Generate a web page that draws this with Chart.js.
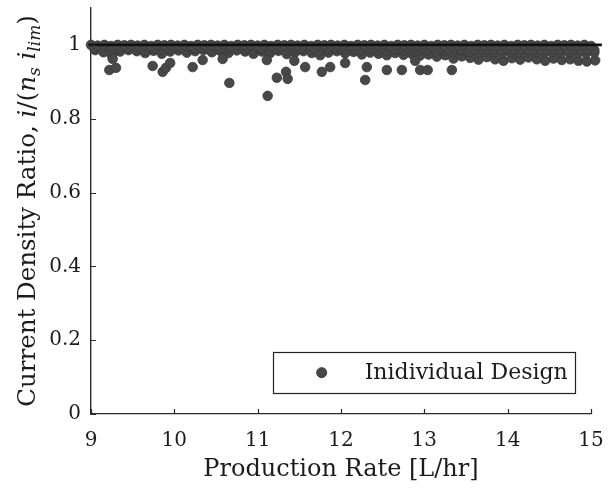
<!DOCTYPE html>
<html>
<head>
<meta charset="utf-8">
<script src="https://cdn.jsdelivr.net/npm/chart.js@4"></script>
<style>
  html, body { margin: 0; padding: 0; background: #fff; }
  #wrap { width: 612px; height: 492px; }
</style>
</head>
<body>
<div id="wrap"><canvas id="c" width="612" height="492"></canvas></div>
<script>
// ---- data ----
const xTicks = [9, 10, 11, 12, 13, 14, 15];
const yTicks = [0, 0.2, 0.4, 0.6, 0.8, 1];
const xTitle = 'Production Rate [L/hr]';
const seriesLabel = 'Inidividual Design';
const limitX = [8.97, 15.13];
const limitY = [1, 1];

const bandTop = [[9.00,1.000],[9.08,0.998],[9.16,1.000],[9.24,0.997],[9.32,1.000],[9.40,0.999],[9.48,1.000],[9.56,0.998],[9.64,1.000],[9.72,0.997],[9.80,1.000],[9.88,0.999],[9.96,1.000],[10.04,0.998],[10.12,1.000],[10.20,0.997],[10.28,1.000],[10.36,0.999],[10.44,1.000],[10.52,0.998],[10.60,1.000],[10.68,0.997],[10.76,1.000],[10.84,0.999],[10.92,1.000],[11.00,0.998],[11.08,1.000],[11.16,0.997],[11.24,1.000],[11.32,0.999],[11.40,1.000],[11.48,0.998],[11.56,1.000],[11.64,0.997],[11.72,1.000],[11.80,0.999],[11.88,1.000],[11.96,0.998],[12.04,1.000],[12.12,0.997],[12.20,1.000],[12.28,0.999],[12.36,1.000],[12.44,0.998],[12.52,1.000],[12.60,0.997],[12.68,1.000],[12.76,0.999],[12.84,1.000],[12.92,0.998],[13.00,1.000],[13.08,0.997],[13.16,1.000],[13.24,0.999],[13.32,1.000],[13.40,0.998],[13.48,1.000],[13.56,0.997],[13.64,1.000],[13.72,0.999],[13.80,1.000],[13.88,0.998],[13.96,1.000],[14.04,0.997],[14.12,1.000],[14.20,0.999],[14.28,1.000],[14.36,0.998],[14.44,1.000],[14.52,0.997],[14.60,1.000],[14.68,0.999],[14.76,1.000],[14.84,0.998],[14.92,1.000],[15.00,0.997],[15.08,1.000]];

const bandUpper = [[9.04,0.994],[9.12,0.992],[9.20,0.995],[9.28,0.991],[9.36,0.994],[9.44,0.993],[9.52,0.995],[9.60,0.992],[9.68,0.994],[9.76,0.991],[9.84,0.995],[9.92,0.993],[10.00,0.994],[10.08,0.992],[10.16,0.995],[10.24,0.991],[10.32,0.994],[10.40,0.993],[10.48,0.995],[10.56,0.992],[10.64,0.994],[10.72,0.991],[10.80,0.995],[10.88,0.993],[10.96,0.994],[11.04,0.992],[11.12,0.995],[11.20,0.991],[11.28,0.994],[11.36,0.993],[11.44,0.995],[11.52,0.992],[11.60,0.994],[11.68,0.991],[11.76,0.995],[11.84,0.993],[11.92,0.994],[12.00,0.992],[12.08,0.995],[12.16,0.991],[12.24,0.994],[12.32,0.993],[12.40,0.994],[12.48,0.991],[12.56,0.993],[12.64,0.990],[12.72,0.993],[12.80,0.991],[12.88,0.992],[12.96,0.990],[13.04,0.992],[13.12,0.989],[13.20,0.991],[13.28,0.988],[13.36,0.990],[13.44,0.988],[13.52,0.990],[13.60,0.987],[13.68,0.989],[13.76,0.987],[13.84,0.989],[13.92,0.986],[14.00,0.988],[14.08,0.986],[14.16,0.988],[14.24,0.987],[14.32,0.988],[14.40,0.986],[14.48,0.987],[14.56,0.986],[14.64,0.988],[14.72,0.986],[14.80,0.987],[14.88,0.986],[14.96,0.987],[15.04,0.986],[15.10,0.988]];

const bandMid = [[9.04,0.990],[9.14,0.986],[9.24,0.984],[9.34,0.989],[9.44,0.991],[9.54,0.987],[9.64,0.985],[9.74,0.990],[9.84,0.986],[9.94,0.988],[10.04,0.991],[10.14,0.987],[10.24,0.989],[10.34,0.990],[10.44,0.986],[10.54,0.989],[10.64,0.987],[10.74,0.991],[10.84,0.988],[10.94,0.985],[11.04,0.989],[11.14,0.986],[11.24,0.990],[11.34,0.985],[11.44,0.988],[11.54,0.989],[11.64,0.986],[11.74,0.984],[11.84,0.987],[11.94,0.989],[12.04,0.986],[12.14,0.988],[12.24,0.985],[12.34,0.987],[12.44,0.986],[12.54,0.984],[12.64,0.987],[12.74,0.985],[12.84,0.986],[12.94,0.984],[13.04,0.985],[13.14,0.982],[13.24,0.984],[13.34,0.980],[13.44,0.983],[13.54,0.981],[13.64,0.979],[13.74,0.982],[13.84,0.980],[13.94,0.978],[14.04,0.981],[14.14,0.979],[14.24,0.982],[14.34,0.980],[14.44,0.978],[14.54,0.981],[14.64,0.979],[14.74,0.980],[14.84,0.978],[14.94,0.977],[15.04,0.979]];

const bandLow = [[9.05,0.986],[9.15,0.980],[9.25,0.972],[9.35,0.982],[9.45,0.986],[9.55,0.983],[9.65,0.978],[9.75,0.984],[9.85,0.976],[9.95,0.982],[10.05,0.985],[10.15,0.979],[10.25,0.983],[10.35,0.986],[10.45,0.980],[10.55,0.984],[10.65,0.978],[10.75,0.985],[10.85,0.982],[10.95,0.976],[11.05,0.982],[11.15,0.978],[11.25,0.984],[11.35,0.975],[11.45,0.980],[11.55,0.983],[11.65,0.978],[11.75,0.972],[11.85,0.979],[11.95,0.983],[12.05,0.977],[12.15,0.981],[12.25,0.974],[12.35,0.979],[12.45,0.976],[12.55,0.972],[12.65,0.978],[12.75,0.973],[12.85,0.976],[12.95,0.971],[13.05,0.974],[13.15,0.968],[13.25,0.972],[13.35,0.963],[13.45,0.969],[13.55,0.965],[13.65,0.960],[13.75,0.967],[13.85,0.961],[13.95,0.957],[14.05,0.964],[14.15,0.960],[14.25,0.966],[14.35,0.961],[14.45,0.957],[14.55,0.963],[14.65,0.959],[14.75,0.961],[14.85,0.957],[14.95,0.955],[15.05,0.958]];

const outliers = [[9.22,0.932],[9.30,0.938],[9.26,0.962],[9.74,0.943],[9.86,0.927],[9.90,0.938],[9.95,0.951],[10.22,0.940],[10.34,0.959],[10.58,0.962],[10.66,0.897],[11.11,0.959],[11.12,0.862],[11.23,0.911],[11.34,0.927],[11.36,0.908],[11.44,0.957],[11.57,0.940],[11.77,0.927],[11.87,0.940],[12.05,0.951],[12.31,0.940],[12.29,0.905],[12.55,0.932],[12.73,0.932],[12.89,0.957],[12.95,0.932],[13.04,0.932],[13.33,0.932],[15.08,0.935],[15.10,0.925]];

// ---- build ----
const SERIF = '"DejaVu Serif", "Liberation Serif", serif';
const INK = '#1c1c1c';
const PT_FILL = '#484848';
const PT_EDGE = '#3a3a3a';

const toPts = arr => arr.map(p => ({ x: p[0], y: p[1] }));
const designPts = [].concat(toPts(bandLow), toPts(bandMid), toPts(bandUpper), toPts(bandTop), toPts(outliers));
const limitPts = limitX.map((x, i) => ({ x: x, y: limitY[i] }));

const decor = {
  id: 'decor',
  afterDraw(chart) {
    const ctx = chart.ctx;
    const xs = chart.scales.x, ys = chart.scales.y;
    const a = chart.chartArea;
    ctx.save();
    // inward tick marks
    ctx.strokeStyle = '#2a2a2a';
    ctx.lineWidth = 1.2;
    ctx.beginPath();
    xTicks.forEach(v => {
      const px = Math.round(xs.getPixelForValue(v)) + 0.5;
      ctx.moveTo(px, a.bottom);
      ctx.lineTo(px, a.bottom - 5);
    });
    yTicks.forEach(v => {
      const py = Math.round(ys.getPixelForValue(v)) + 0.5;
      ctx.moveTo(a.left, py);
      ctx.lineTo(a.left + 5, py);
    });
    ctx.stroke();

    // y-axis title with math parts
    const fs = 24.5;
    const segs = [
      { t: 'Current Density Ratio, ', it: false, sub: false },
      { t: 'i', it: true, sub: false },
      { t: '/(', it: false, sub: false },
      { t: 'n', it: true, sub: false },
      { t: 's', it: true, sub: true },
      { t: ' ', it: false, sub: false },
      { t: 'i', it: true, sub: false },
      { t: 'lim', it: true, sub: true },
      { t: ')', it: false, sub: false }
    ];
    const fontFor = s => (s.it ? 'italic ' : '') + (s.sub ? Math.round(fs * 0.7) : fs) + 'px ' + SERIF;
    let total = 0;
    segs.forEach(s => { ctx.font = fontFor(s); s.w = ctx.measureText(s.t).width; total += s.w; });
    ctx.translate(35, (a.top + a.bottom) / 2);
    ctx.rotate(-Math.PI / 2);
    ctx.fillStyle = INK;
    ctx.textBaseline = 'alphabetic';
    ctx.textAlign = 'left';
    let cx = -total / 2;
    segs.forEach(s => {
      ctx.font = fontFor(s);
      ctx.fillText(s.t, cx, s.sub ? fs * 0.22 : 0);
      cx += s.w;
    });
    ctx.restore();

    // legend box inside the plot
    ctx.save();
    const lx = xs.getPixelForValue(11.18), rx = xs.getPixelForValue(14.8);
    const ty = ys.getPixelForValue(0.168), by = ys.getPixelForValue(0.056);
    ctx.fillStyle = '#fff';
    ctx.fillRect(lx, ty, rx - lx, by - ty);
    ctx.strokeStyle = '#222';
    ctx.lineWidth = 1.2;
    ctx.strokeRect(Math.round(lx) + 0.5, Math.round(ty) + 0.5, Math.round(rx - lx), Math.round(by - ty));
    const my = (ty + by) / 2;
    ctx.beginPath();
    ctx.arc(lx + 49, my, 5, 0, Math.PI * 2);
    ctx.fillStyle = PT_FILL;
    ctx.fill();
    ctx.strokeStyle = PT_EDGE;
    ctx.lineWidth = 1;
    ctx.stroke();
    ctx.fillStyle = INK;
    ctx.font = '22px ' + SERIF;
    ctx.textBaseline = 'middle';
    ctx.textAlign = 'left';
    ctx.fillText(chart.data.datasets[0].label, lx + 92, my + 1);
    ctx.restore();
  }
};

new Chart(document.getElementById('c'), {
  type: 'scatter',
  data: {
    datasets: [
      {
        label: seriesLabel,
        data: designPts,
        order: 2,
        pointRadius: 4.8,
        pointHoverRadius: 4.8,
        backgroundColor: PT_FILL,
        borderColor: PT_EDGE,
        borderWidth: 0.8,
        clip: false
      },
      {
        label: 'limit',
        type: 'line',
        data: limitPts,
        order: 1,
        borderColor: '#111',
        borderWidth: 2.8,
        pointRadius: 0,
        fill: false,
        clip: false
      }
    ]
  },
  options: {
    responsive: false,
    animation: false,
    devicePixelRatio: 1,
    layout: { padding: { left: 0, right: 21, top: 8, bottom: 0 } },
    plugins: { legend: { display: false }, tooltip: { enabled: false } },
    scales: {
      x: {
        type: 'linear',
        min: 9, max: 15,
        afterBuildTicks: s => { s.ticks = xTicks.map(v => ({ value: v })); },
        afterFit: s => { s.height = 78; s.paddingLeft = 0; s.paddingRight = 0; },
        grid: { display: false, drawTicks: false },
        border: { display: true, color: '#2a2a2a', width: 1.2 },
        ticks: { color: INK, font: { family: SERIF, size: 20 }, padding: 15, maxRotation: 0, autoSkip: false },
        title: { display: true, text: xTitle, color: INK, font: { family: SERIF, size: 24 }, padding: { top: 0, bottom: 8 } }
      },
      y: {
        type: 'linear',
        min: 0, max: 1.1,
        afterBuildTicks: s => { s.ticks = yTicks.map(v => ({ value: v })); },
        afterFit: s => { s.width = 91; s.paddingTop = 0; s.paddingBottom = 0; },
        grid: { display: false, drawTicks: false },
        border: { display: true, color: '#2a2a2a', width: 1.4 },
        ticks: { color: INK, font: { family: SERIF, size: 20 }, padding: 10, callback: v => String(v) }
      }
    }
  },
  plugins: [decor]
});
</script>
</body>
</html>
